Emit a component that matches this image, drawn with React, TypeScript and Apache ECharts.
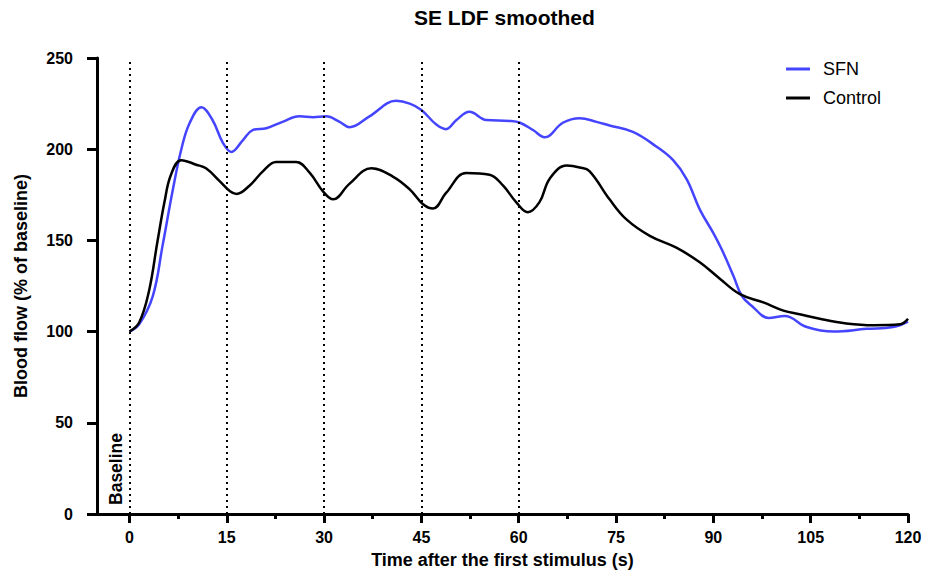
import React, { useEffect, useRef } from "react";
import * as echarts from "echarts";

const title = "SE LDF smoothed";
const xName = "Time after the first stimulus (s)";
const yName = "Blood flow (% of baseline)";
const xMajorTicks = [0, 15, 30, 45, 60, 75, 90, 105, 120];
const xMinorTicks = [7.5, 22.5, 37.5, 52.5, 67.5, 82.5, 97.5, 112.5];
const stimulusTimes = [0, 15, 30, 45, 60];

const sfnT = [0, 1.5, 3.6, 5.1, 6.7, 8, 9.3, 11.1, 12.8, 14.4, 15.7, 17.5, 19, 21.1, 23.6, 26.2, 28.3, 30.3, 32.4, 33.9, 37, 41.1, 43.2, 45, 47.3, 48.8, 50.4, 52.4, 55, 58.6, 60.2, 62.2, 64, 66.8, 69.4, 72, 74, 77.6, 81.2, 83.8, 85.9, 87.9, 90, 91.3, 93.1, 94.4, 96.1, 98.5, 101, 104.4, 108.5, 113.6, 117.7, 120];
const sfnV = [100, 104, 119.5, 147, 178, 200, 214.5, 223, 216, 203.5, 198.5, 205, 210.5, 211.5, 215, 218, 217.5, 218, 215, 212, 218, 226.5, 225, 221.5, 213.5, 211, 216, 220.5, 216, 215.5, 214.5, 210.5, 206.5, 214.5, 217, 215, 213, 209.5, 201.5, 194, 183.5, 167, 154, 145, 130.5, 119.5, 113.5, 107.5, 108.5, 102.5, 100, 101.5, 102.5, 105.5];

const ctrlT = [0, 1.5, 3, 4.3, 5.4, 6.4, 8, 10.3, 11.8, 13.9, 15.5, 16.5, 18.5, 20.6, 22.6, 25.7, 27.8, 29.8, 31.4, 33.9, 37.3, 40.6, 43.2, 45.2, 46.8, 48.8, 51.9, 55.5, 57.6, 59.6, 61.4, 63.2, 64.8, 67.4, 69.4, 70.9, 74, 76.6, 80.2, 84.3, 87.9, 91, 94.1, 97.7, 100.8, 103.3, 106.4, 110.5, 114.7, 118.8, 120];
const ctrlV = [100, 105, 122, 149, 171, 186, 194, 191.5, 189.5, 182.5, 177, 175.5, 180, 188, 193, 193, 187, 177, 172.5, 181, 189.5, 185, 178, 170, 167.5, 176, 187, 186, 180, 171, 165.5, 171, 184, 191, 190, 188, 172.5, 161.5, 152.5, 146, 138, 129, 120.5, 116, 111.5, 109.5, 107, 104.5, 103.5, 104, 107];

const FONT = "'Liberation Sans', Arial, sans-serif";

export default function App() {
  const ref = useRef<HTMLDivElement>(null);
  useEffect(() => {
    document.body.style.margin = "0";
    if (!ref.current) return;
    const chart = echarts.init(ref.current, null, { renderer: "svg" });
    const zip = (t: number[], v: number[]) => t.map((x, i) => [x, v[i]]);
    const axisCommon = {
      type: "value",
      min: -5,
      max: 120,
      splitLine: { show: false },
    };
    chart.setOption({
      animation: false,
      textStyle: { fontFamily: FONT },
      title: {
        text: title,
        left: 414,
        top: 7,
        padding: 0,
        textStyle: { fontFamily: FONT, fontWeight: "bold", fontSize: 21, color: "#000" },
      },
      legend: {
        orient: "vertical",
        left: 786,
        top: 60,
        padding: 0,
        itemWidth: 24,
        itemHeight: 3,
        itemGap: 11,
        icon: "rect",
        textStyle: { fontFamily: FONT, fontSize: 18, color: "#000", padding: [0, 0, 0, 8] },
        data: ["SFN", "Control"],
      },
      grid: { left: 97, right: 17, top: 58, bottom: 58, containLabel: false },
      xAxis: [
        {
          ...axisCommon,
          name: xName,
          nameLocation: "middle",
          nameGap: 37,
          nameTextStyle: { fontFamily: FONT, fontWeight: "bold", fontSize: 18, color: "#000" },
          axisLine: { show: true, onZero: false, lineStyle: { color: "#000", width: 3 } },
          axisTick: { show: true, customValues: xMajorTicks, length: 9, lineStyle: { color: "#000", width: 3 } },
          axisLabel: { customValues: xMajorTicks, margin: 15, fontFamily: FONT, fontWeight: "bold", fontSize: 16, color: "#000" },
        },
        {
          ...axisCommon,
          position: "bottom",
          axisLine: { show: false, onZero: false },
          axisTick: { show: true, customValues: xMinorTicks, length: 5, lineStyle: { color: "#000", width: 3 } },
          axisLabel: { show: false },
        },
      ],
      yAxis: {
        type: "value",
        min: 0,
        max: 250,
        interval: 50,
        name: yName,
        nameLocation: "middle",
        nameGap: 67,
        nameTextStyle: { fontFamily: FONT, fontWeight: "bold", fontSize: 18, color: "#000" },
        splitLine: { show: false },
        axisLine: { show: true, onZero: false, lineStyle: { color: "#000", width: 3 } },
        axisTick: { show: true, length: 10, lineStyle: { color: "#000", width: 3 } },
        axisLabel: { margin: 24, fontFamily: FONT, fontWeight: "bold", fontSize: 16, color: "#000" },
      },
      graphic: [
        {
          type: "text",
          x: 115.5,
          y: 469,
          rotation: Math.PI / 2,
          style: {
            text: "Baseline",
            font: "bold 17.5px " + FONT,
            fill: "#000",
            align: "center",
            verticalAlign: "middle",
          },
        },
      ],
      series: [
        {
          name: "Stimuli",
          type: "line",
          data: [],
          markLine: {
            silent: true,
            symbol: "none",
            label: { show: false },
            lineStyle: { color: "#000", width: 2, type: [2, 4] },
            data: stimulusTimes.map((t) => ({ xAxis: t })),
          },
        },
        {
          name: "SFN",
          type: "line",
          data: zip(sfnT, sfnV),
          smooth: 0.4,
          showSymbol: false,
          lineStyle: { color: "#4545ff", width: 2.5 },
          itemStyle: { color: "#4545ff" },
        },
        {
          name: "Control",
          type: "line",
          data: zip(ctrlT, ctrlV),
          smooth: 0.4,
          showSymbol: false,
          lineStyle: { color: "#000", width: 2.5 },
          itemStyle: { color: "#000" },
        },
      ],
    });
    return () => chart.dispose();
  }, []);
  return <div ref={ref} style={{ width: 925, height: 574 }} />;
}
